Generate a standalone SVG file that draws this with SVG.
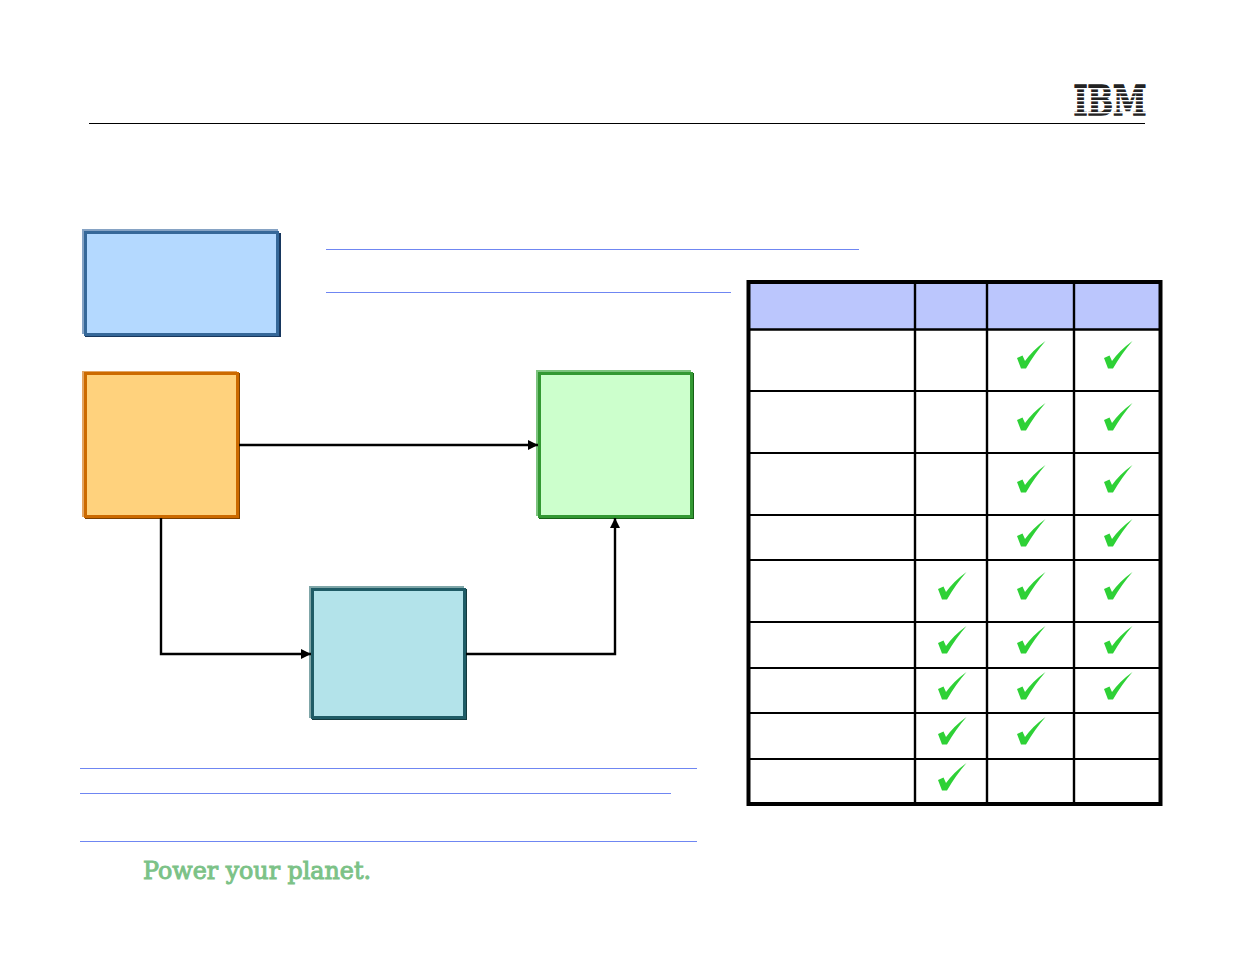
<svg xmlns="http://www.w3.org/2000/svg" xmlns:xlink="http://www.w3.org/1999/xlink" width="1235" height="954" viewBox="0 0 1235 954">
<style>
.rule{stroke:#6f86f2;stroke-width:1;fill:none}
.conn{stroke:#000;stroke-width:2.4;fill:none;marker-end:url(#arrow)}
.grid{stroke:#000;stroke-width:2;fill:none}
.thick{stroke:#000;stroke-width:2.4;fill:none}
.b{stroke-width:3}
.logo{font-family:"DejaVu Serif","Liberation Serif",serif;font-weight:700;fill:#222;stroke:#222;stroke-width:1.4}
.tag{font-family:"DejaVu Serif","Liberation Serif",serif;fill:#7cc287;stroke:#7cc287;stroke-width:1}
</style>
<defs>
<marker id="arrow" markerUnits="userSpaceOnUse" markerWidth="11" markerHeight="11" refX="10" refY="5.5" orient="auto"><path d="M0 0.5L10 5.5L0 10.5Z" fill="#000"/></marker>
<path id="chk" fill="#2ed136" d="M0 0L5.5-2.6L8 3Q16-8 28.5-17Q18-5 9 10.5L4 10.5Z"/>
</defs>
<rect width="1235" height="954" fill="#fff"/>
<g id="header">
<line x1="89" y1="123.5" x2="1145" y2="123.5" stroke="#000" stroke-width="1"/>
<g id="ibm-logo">
<text class="logo" x="1110" y="115" text-anchor="middle" font-size="41" textLength="73" lengthAdjust="spacingAndGlyphs">IBM</text>
<g fill="#fff"><rect x="1070" y="80" width="80" height="4"/><rect x="1070" y="88" width="80" height="1.4"/><rect x="1070" y="92" width="80" height="1.4"/><rect x="1070" y="96" width="80" height="1.4"/><rect x="1070" y="100" width="80" height="1.4"/><rect x="1070" y="104" width="80" height="1.4"/><rect x="1070" y="108" width="80" height="1.4"/><rect x="1070" y="112" width="80" height="1.4"/></g>
</g>
</g>
<g id="rules">
<line class="rule" x1="326" y1="249.5" x2="859" y2="249.5"/>
<line class="rule" x1="326" y1="292.5" x2="731" y2="292.5"/>
<line class="rule" x1="80" y1="768.5" x2="697" y2="768.5"/>
<line class="rule" x1="80" y1="793.5" x2="671" y2="793.5"/>
<line class="rule" x1="80" y1="841.5" x2="697" y2="841.5"/>
</g>
<g id="node-blue">
<rect x="82" y="229" width="196" height="105" fill="#86a3c4"/>
<rect x="85" y="233" width="196" height="104" fill="#17375e"/>
<rect class="b" x="85.5" y="232.5" width="192" height="102" fill="#b4d9ff" stroke="#366899"/>
</g>
<g id="node-orange">
<rect x="82" y="371" width="155" height="146" fill="#e2a564"/>
<rect x="85" y="373" width="155" height="146" fill="#7a3f00"/>
<rect class="b" x="85.5" y="373.5" width="152" height="143" fill="#ffd27d" stroke="#cc6a00"/>
</g>
<g id="node-green">
<rect x="536" y="370" width="155" height="146" fill="#7dc47f"/>
<rect x="539" y="373" width="155" height="146" fill="#166016"/>
<rect class="b" x="539.5" y="373.5" width="152" height="143" fill="#ccffcc" stroke="#339933"/>
</g>
<g id="node-teal">
<rect x="309" y="586" width="155" height="132" fill="#7fa6a8"/>
<rect x="312" y="589" width="155" height="131" fill="#133a3e"/>
<rect class="b" x="312.5" y="589.5" width="152" height="128" fill="#b3e3ea" stroke="#1f5c66"/>
</g>
<g id="connectors">
<path class="conn" d="M239 445H538"/>
<path class="conn" d="M161 518V654H311"/>
<path class="conn" d="M466 654H615V518"/>
</g>
<g id="table">
<rect x="749" y="283" width="412" height="46" fill="#bbc6fd"/>
<g class="grid">
<path d="M747 391H1161M747 453H1161M747 515H1161M747 560H1161M747 622H1161M747 668H1161M747 713H1161M747 759H1161"/>
</g>
<g class="thick">
<path d="M748 329.5H1161M915 282V804M987 282V804M1074 282V804"/>
</g>
<rect x="748.5" y="282" width="412" height="522" fill="none" stroke="#000" stroke-width="4"/>
<g id="checks">
<use xlink:href="#chk" href="#chk" x="1017" y="358"/><use xlink:href="#chk" href="#chk" x="1104" y="358"/>
<use xlink:href="#chk" href="#chk" x="1017" y="420"/><use xlink:href="#chk" href="#chk" x="1104" y="420"/>
<use xlink:href="#chk" href="#chk" x="1017" y="482"/><use xlink:href="#chk" href="#chk" x="1104" y="482"/>
<use xlink:href="#chk" href="#chk" x="1017" y="536"/><use xlink:href="#chk" href="#chk" x="1104" y="536"/>
<use xlink:href="#chk" href="#chk" x="938" y="589"/><use xlink:href="#chk" href="#chk" x="1017" y="589"/><use xlink:href="#chk" href="#chk" x="1104" y="589"/>
<use xlink:href="#chk" href="#chk" x="938" y="643"/><use xlink:href="#chk" href="#chk" x="1017" y="643"/><use xlink:href="#chk" href="#chk" x="1104" y="643"/>
<use xlink:href="#chk" href="#chk" x="938" y="689"/><use xlink:href="#chk" href="#chk" x="1017" y="689"/><use xlink:href="#chk" href="#chk" x="1104" y="689"/>
<use xlink:href="#chk" href="#chk" x="938" y="734"/><use xlink:href="#chk" href="#chk" x="1017" y="734"/>
<use xlink:href="#chk" href="#chk" x="938" y="780"/>
</g>
</g>
<text id="tagline" class="tag" x="143" y="879" font-size="24" textLength="228" lengthAdjust="spacingAndGlyphs">Power your planet.</text>
</svg>
